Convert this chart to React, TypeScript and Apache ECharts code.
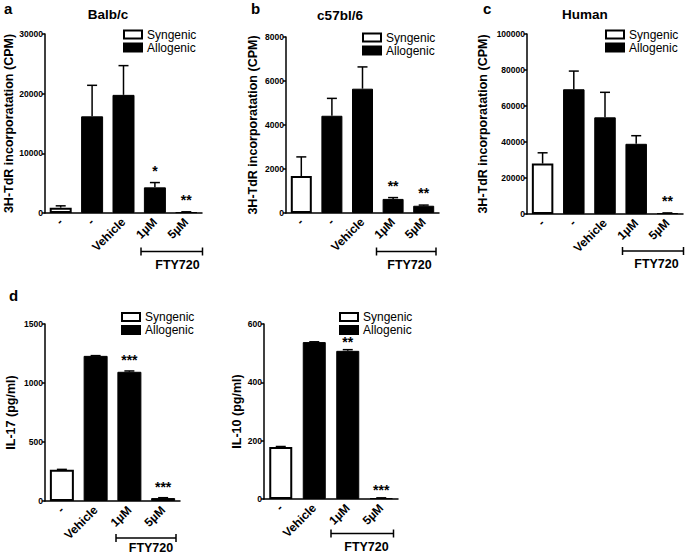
import React, { useEffect, useRef } from "react";
import * as echarts from "echarts";

const FONT = "'Liberation Sans', Arial, sans-serif";

// categories
const catsProlif = ["-", "-", "Vehicle", "1µM", "5µM"];
const catsCyto = ["-", "Vehicle", "1µM", "5µM"];
const seriesNames = ["Syngenic", "Allogenic"];

// a: Balb/c
const balbSyn = [900, null, null, null, null];
const balbAllo = [null, 16200, 19800, 4300, 150];
const balbErrTop = [1200, 21400, 24700, 5100, 200];
const balbStars = ["", "", "", "*", "**"];

// b: c57bl/6
const c57Syn = [1680, null, null, null, null];
const c57Allo = [null, 4420, 5650, 640, 330];
const c57ErrTop = [2550, 5210, 6640, 700, 360];
const c57Stars = ["", "", "", "**", "**"];

// c: Human
const humSyn = [28000, null, null, null, null];
const humAllo = [null, 69300, 53700, 39000, 500];
const humErrTop = [34000, 79400, 67600, 43500, 600];
const humStars = ["", "", "", "", "**"];

// d: IL-17
const il17Syn = [265, null, null, null];
const il17Allo = [null, 1230, 1095, 25];
const il17ErrTop = [268, 1232, 1102, 28];
const il17Stars = ["", "", "***", "***"];

// d: IL-10
const il10Syn = [178, null, null, null];
const il10Allo = [null, 538, 508, 3];
const il10ErrTop = [180, 539, 512, 4];
const il10Stars = ["", "", "**", "***"];

// y axis ranges
const yMax = [30000, 8000, 100000, 1500, 600];
const yInterval = [10000, 2000, 20000, 500, 200];
const yNames = [
  "3H-TdR incorporatation (CPM)",
  "3H-TdR incorporatation (CPM)",
  "3H-TdR incorporatation (CPM)",
  "IL-17 (pg/ml)",
  "IL-10 (pg/ml)",
];

const panelData = [
  { cats: catsProlif, syn: balbSyn, allo: balbAllo, err: balbErrTop, stars: balbStars },
  { cats: catsProlif, syn: c57Syn, allo: c57Allo, err: c57ErrTop, stars: c57Stars },
  { cats: catsProlif, syn: humSyn, allo: humAllo, err: humErrTop, stars: humStars },
  { cats: catsCyto, syn: il17Syn, allo: il17Allo, err: il17ErrTop, stars: il17Stars },
  { cats: catsCyto, syn: il10Syn, allo: il10Allo, err: il10ErrTop, stars: il10Stars },
];

// layout (positions / sizes)
const layout = [
  { grid: { left: 45, top: 34, width: 157, height: 179 }, barWidth: 22, nameGap: 30, legend: { left: 123, top: 28.5 }, starGap: 5 },
  { grid: { left: 286, top: 37, width: 153, height: 176 }, barWidth: 21, nameGap: 27, legend: { left: 362, top: 31.5 }, starGap: 5 },
  { grid: { left: 527, top: 34, width: 156, height: 180 }, barWidth: 21.5, nameGap: 38, legend: { left: 605, top: 28.5 }, starGap: 5 },
  { grid: { left: 45, top: 324, width: 135, height: 177 }, barWidth: 24, nameGap: 28, legend: { left: 121, top: 311 }, starGap: 4 },
  { grid: { left: 264, top: 324, width: 134, height: 175 }, barWidth: 23, nameGap: 19, legend: { left: 339, top: 311 }, starGap: 1 },
];

const brackets = [
  { x1: 141, x2: 202.5, y: 251.5 },
  { x1: 376.5, x2: 436, y: 251.5 },
  { x1: 622.5, x2: 683.5, y: 251 },
  { x1: 116, x2: 176, y: 538 },
  { x1: 331, x2: 393.5, y: 533.5 },
];
const fty = [
  { x: 177.5, y: 265 },
  { x: 409.5, y: 264.5 },
  { x: 656.5, y: 264 },
  { x: 151, y: 548 },
  { x: 366.5, y: 546.5 },
];

export default function App() {
  const ref = useRef<HTMLDivElement>(null);
  useEffect(() => {
    if (!ref.current) return;
    const chart = echarts.init(ref.current, undefined, { renderer: "svg" });

    const grid: any[] = [];
    const xAxis: any[] = [];
    const yAxis: any[] = [];
    const series: any[] = [];
    const legend: any[] = [];
    const graphic: any[] = [];

    panelData.forEach((p, i) => {
      const L = layout[i];
      grid.push({ ...L.grid, containLabel: false });
      xAxis.push({
        type: "category",
        gridIndex: i,
        data: p.cats,
        boundaryGap: true,
        axisLine: { lineStyle: { color: "#000", width: 1.5 } },
        axisTick: { alignWithLabel: true, length: 4, lineStyle: { color: "#000", width: 1.5 } },
        axisLabel: {
          rotate: 45,
          interval: 0,
          margin: 7,
          fontSize: 12,
          fontWeight: "bold",
          color: "#000",
          fontFamily: FONT,
        },
      });
      yAxis.push({
        type: "value",
        gridIndex: i,
        min: 0,
        max: yMax[i],
        interval: yInterval[i],
        axisLine: { show: true, lineStyle: { color: "#000", width: 1.5 } },
        axisTick: { show: true, length: 3, lineStyle: { color: "#000", width: 1.5 } },
        splitLine: { show: false },
        axisLabel: {
          fontSize: 8.5,
          fontWeight: "bold",
          color: "#000",
          margin: 2,
          fontFamily: FONT,
          formatter: (v: number) => String(v),
        },
        name: yNames[i],
        nameLocation: "middle",
        nameGap: L.nameGap,
        nameTextStyle: { fontSize: 12.5, fontWeight: "bold", color: "#000", fontFamily: FONT },
      });
      series.push({
        type: "bar",
        name: seriesNames[0],
        xAxisIndex: i,
        yAxisIndex: i,
        data: p.syn,
        barWidth: L.barWidth,
        barGap: "-100%",
        itemStyle: { color: "#fff", borderColor: "#000", borderWidth: 2 },
        z: 2,
      });
      series.push({
        type: "bar",
        name: seriesNames[1],
        xAxisIndex: i,
        yAxisIndex: i,
        data: p.allo,
        barWidth: L.barWidth,
        barGap: "-100%",
        itemStyle: { color: "#000", borderColor: "#000", borderWidth: 1 },
        z: 2,
      });
      const stars = p.stars;
      const gap = L.starGap;
      series.push({
        type: "custom",
        name: "err" + i,
        xAxisIndex: i,
        yAxisIndex: i,
        z: 5,
        data: p.err.map((e, k) => [k, e, (p.syn[k] ?? p.allo[k]) as number]),
        renderItem: (params: any, api: any) => {
          const k = api.value(0);
          const top = api.value(1);
          const base = api.value(2);
          const p0 = api.coord([k, base]);
          const p1 = api.coord([k, top]);
          const children: any[] = [
            { type: "line", shape: { x1: p0[0], y1: p0[1], x2: p1[0], y2: p1[1] }, style: { stroke: "#000", lineWidth: 1.5 } },
            { type: "line", shape: { x1: p1[0] - 5, y1: p1[1], x2: p1[0] + 5, y2: p1[1] }, style: { stroke: "#000", lineWidth: 1.5 } },
          ];
          const s = stars[params.dataIndex];
          if (s) {
            children.push({
              type: "text",
              style: {
                text: s,
                x: p1[0],
                y: p1[1] - gap,
                align: "center",
                verticalAlign: "bottom",
                font: "bold 14px " + FONT,
                fill: "#000",
              },
            });
          }
          return { type: "group", children };
        },
      });
      legend.push({
        data: seriesNames,
        orient: "vertical",
        left: L.legend.left,
        top: L.legend.top,
        icon: "rect",
        itemWidth: 18,
        itemHeight: 8,
        itemGap: 1,
        padding: 0,
        selectedMode: false,
        textStyle: { fontSize: 12, lineHeight: 12, color: "#000", fontFamily: FONT },
      });

      const b = brackets[i];
      const ls = { stroke: "#000", lineWidth: 1.5 };
      graphic.push({ type: "line", shape: { x1: b.x1, y1: b.y, x2: b.x2, y2: b.y }, style: ls });
      graphic.push({ type: "line", shape: { x1: b.x1, y1: b.y - 4, x2: b.x1, y2: b.y + 4 }, style: ls });
      graphic.push({ type: "line", shape: { x1: b.x2, y1: b.y - 4, x2: b.x2, y2: b.y + 4 }, style: ls });
      graphic.push({
        type: "text",
        style: { text: "FTY720", x: fty[i].x, y: fty[i].y, align: "center", verticalAlign: "middle", font: "bold 12.5px " + FONT, fill: "#000" },
      });
    });

    const txt = (text: string, x: number, y: number, size: number, align = "left") => ({
      type: "text",
      style: { text, x, y, align, verticalAlign: "middle", font: `bold ${size}px ${FONT}`, fill: "#000" },
    });
    graphic.push(txt("a", 4, 8, 15));
    graphic.push(txt("b", 251, 8, 15));
    graphic.push(txt("c", 483, 8, 15));
    graphic.push(txt("d", 9, 295, 15));
    graphic.push(txt("Balb/c", 108, 14, 13.5, "center"));
    graphic.push(txt("c57bl/6", 340, 15, 13.5, "center"));
    graphic.push(txt("Human", 585, 14.5, 13.5, "center"));

    chart.setOption({
      animation: false,
      backgroundColor: "#fff",
      textStyle: { fontFamily: FONT },
      grid,
      xAxis,
      yAxis,
      series,
      legend,
      graphic,
    });
    return () => chart.dispose();
  }, []);
  return (
    <div
      ref={ref}
      style={{ position: "fixed", left: 0, top: 0, width: 685, height: 554, background: "#fff" }}
    />
  );
}
